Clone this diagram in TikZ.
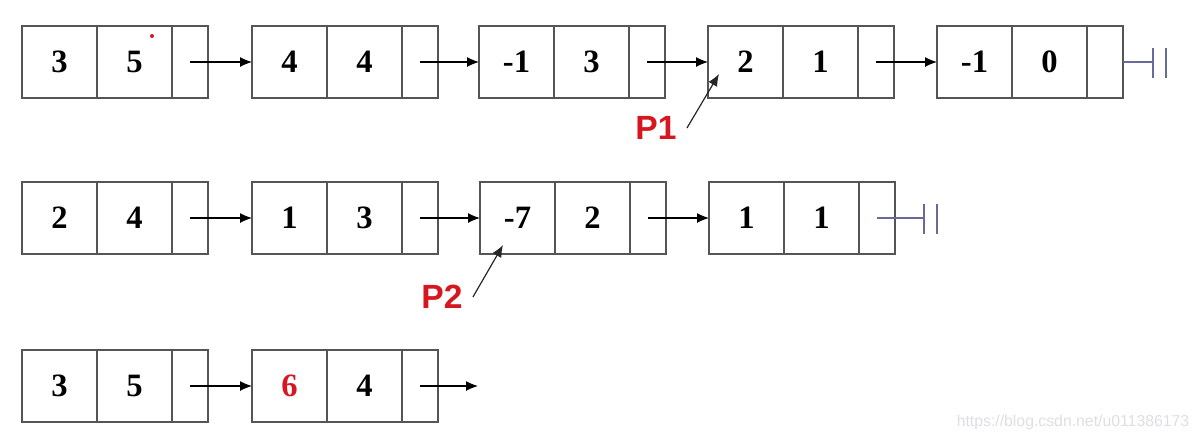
\documentclass[tikz,border=0pt]{standalone}
\usepackage{fontspec}
\setmainfont{Liberation Serif}
\newfontfamily\lsans{Liberation Sans}
\usetikzlibrary{arrows.meta}
\definecolor{boxgray}{RGB}{85,85,85}
\definecolor{pred}{RGB}{215,22,32}
\definecolor{nullc}{RGB}{105,105,155}
\definecolor{wmc}{RGB}{222,222,228}
\tikzset{
  cell/.style={draw=boxgray, line width=0.8pt, minimum height=36pt, inner sep=0pt,
    outer sep=0pt, anchor=north west, font=\fontsize{16.3pt}{18pt}\selectfont\bfseries},
  link/.style={draw=black, line width=0.6pt, -{Latex[length=6pt,width=5pt]}},
  ptr/.style={draw=black!85, line width=0.6pt, -{Latex[length=6pt,width=5pt]}},
  nullline/.style={draw=nullc, line width=0.8pt},
  plabel/.style={text=pred, font=\lsans\fontsize{16.8pt}{18pt}\selectfont\bfseries, inner sep=0pt},
  wmark/.style={text=wmc, font=\lsans\fontsize{7.9pt}{9pt}\selectfont, inner sep=0pt}
}
\newcommand\lnode[5]{%
  \node[cell, minimum width=37.5pt] (#1c) at (#2,#3) {#4};
  \node[cell, minimum width=37.5pt] (#1e) at (#2+75,#3) {#5};
  \node[cell, minimum width=18pt] (#1p) at (#2+150,#3) {};
}
\begin{document}
\begin{tikzpicture}[x=0.5pt,y=-0.5pt]
\useasboundingbox (0,0) rectangle (1200,441);
% row 1
\lnode{a1}{22}{26}{3}{5}
\lnode{a2}{252}{26}{4}{4}
\lnode{a3}{479}{26}{-1}{3}
\lnode{a4}{708}{26}{2}{1}
\lnode{a5}{937}{26}{-1}{0}
\fill[pred] (152,36) circle (1pt);
\draw[link] (a1p.center) -- (a2c.west);
\draw[link] (a2p.center) -- (a3c.west);
\draw[link] (a3p.center) -- (a4c.west);
\draw[link] (a4p.center) -- (a5c.west);
\coordinate (t1) at (1153,62);
\coordinate (t1a) at (1153,48);
\coordinate (t1b) at (1153,78);
\coordinate (t1c) at (1166,48);
\coordinate (t1d) at (1166,78);
\draw[nullline] (a5p.east) -- (t1);
\draw[nullline] (t1a) -- (t1b);
\draw[nullline] (t1c) -- (t1d);
\node[plabel] (P1) at (656,128) {P1};
\draw[ptr] ([xshift=5pt]P1.east) -- ([xshift=5.5pt,yshift=12pt]a4c.south west);
% row 2
\lnode{b1}{22}{182}{2}{4}
\lnode{b2}{252}{182}{1}{3}
\lnode{b3}{480}{182}{-7}{2}
\lnode{b4}{709}{182}{1}{1}
\draw[link] (b1p.center) -- (b2c.west);
\draw[link] (b2p.center) -- (b3c.west);
\draw[link] (b3p.center) -- (b4c.west);
\coordinate (t2) at (924,218);
\coordinate (t2a) at (924,204);
\coordinate (t2b) at (924,234);
\coordinate (t2c) at (937,204);
\coordinate (t2d) at (937,234);
\draw[nullline] (b4p.center) -- (t2);
\draw[nullline] (t2a) -- (t2b);
\draw[nullline] (t2c) -- (t2d);
\node[plabel] (P2) at (442,297) {P2};
\draw[ptr] ([xshift=5pt]P2.east) -- ([xshift=11.5pt,yshift=4.5pt]b3c.south west);
% row 3
\lnode{c1}{22}{350}{3}{5}
\lnode{c2}{252}{350}{\textcolor{pred}{6}}{4}
\draw[link] (c1p.center) -- (c2c.west);
\coordinate (e3) at (478,386);
\draw[link] (c2p.center) -- (e3);
% watermark
\node[wmark] (wm) at (1073,422) {https://blog.csdn.net/u011386173};
\end{tikzpicture}
\end{document}
